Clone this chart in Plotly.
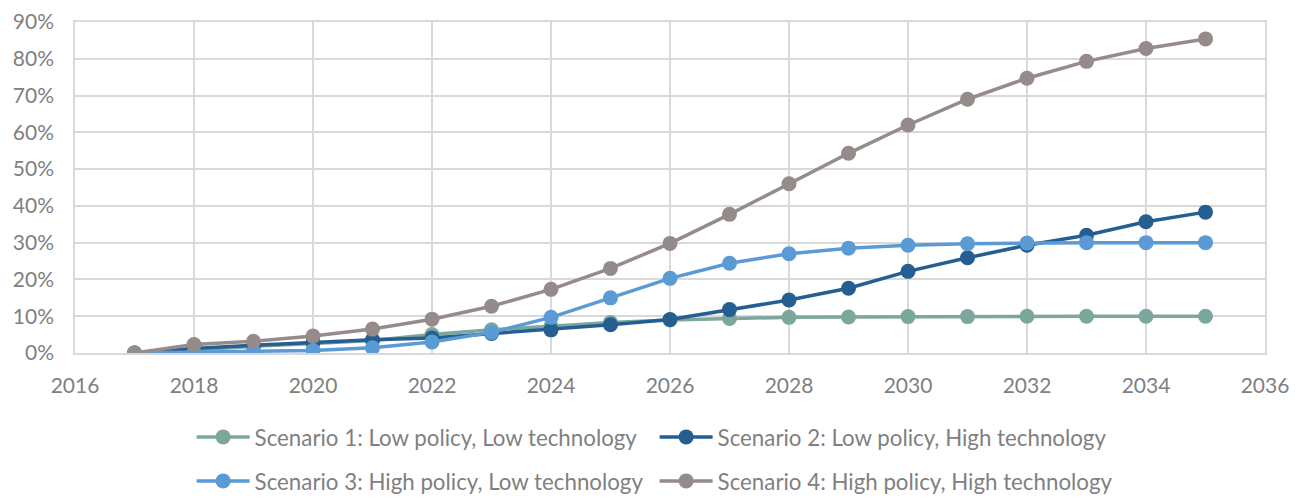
import plotly.graph_objects as go

years = list(range(2017, 2036))
s1 = [0.0, 1.0, 1.8, 2.6, 3.4, 5.0, 6.3, 7.3, 8.3, 9.0, 9.4, 9.7, 9.8, 9.9, 9.9, 10.0, 10.0, 10.0, 10.0]
s2 = [0.0, 1.2, 2.1, 2.9, 3.6, 4.1, 5.3, 6.3, 7.7, 9.1, 11.8, 14.4, 17.6, 22.2, 25.9, 29.3, 32.0, 35.7, 38.3]
s3 = [0.0, 0.2, 0.4, 0.7, 1.4, 3.0, 5.6, 9.7, 15.0, 20.3, 24.4, 27.0, 28.5, 29.3, 29.7, 29.9, 30.0, 30.0, 30.0]
s4 = [0.0, 2.3, 3.2, 4.6, 6.5, 9.2, 12.7, 17.3, 23.0, 29.8, 37.7, 46.0, 54.3, 62.0, 69.0, 74.7, 79.3, 82.8, 85.4]

names = ["Scenario 1: Low policy, Low technology",
         "Scenario 2: Low policy, High technology",
         "Scenario 3: High policy, Low technology",
         "Scenario 4: High policy, High technology"]
colors = ["#7BA79D", "#255E91", "#5B9BD5", "#968B8B"]
legends = ["legend", "legend", "legend2", "legend2"]

fig = go.Figure()
for vals, name, col, lg in zip([s1, s2, s3, s4], names, colors, legends):
    fig.add_trace(go.Scatter(
        x=years, y=[v / 100 for v in vals], name=name, mode="lines+markers",
        line=dict(color=col, width=3.5), marker=dict(color=col, size=15),
        legend=lg))

font = dict(family="Lato", size=21, color="#808080")
legfont = dict(family="Lato", size=22.3, color="#808080")
fig.update_layout(
    width=1295, height=490,
    margin=dict(l=67, r=38, t=14, b=145, autoexpand=False),
    plot_bgcolor="white", paper_bgcolor="white",
    font=font,
    xaxis=dict(range=[2016, 2036], dtick=2, tick0=2016, showgrid=True,
               gridcolor="#D9D9D9", gridwidth=1.5, showline=True, mirror=True,
               linecolor="#D9D9D9", linewidth=1.5, zeroline=False, automargin=False,
               ticks="outside", ticklen=13, tickcolor="rgba(0,0,0,0)",
               ticklabeloverflow="allow"),
    yaxis=dict(range=[0, 0.9], dtick=0.1, tickformat=".0%", showgrid=True,
               gridcolor="#D9D9D9", gridwidth=1.5, showline=True, mirror=True,
               linecolor="#D9D9D9", linewidth=1.5, zeroline=False, automargin=False,
               ticks="outside", ticklen=15, tickcolor="rgba(0,0,0,0)",
               ticklabeloverflow="allow"),
    legend=dict(orientation="h", x=0.098, xanchor="left", y=-0.19, yanchor="top",
                font=legfont, itemwidth=53, entrywidth=395, bgcolor="rgba(0,0,0,0)"),
    legend2=dict(orientation="h", x=0.098, xanchor="left", y=-0.323, yanchor="top",
                 font=legfont, itemwidth=53, entrywidth=395, bgcolor="rgba(0,0,0,0)"),
)
fig.write_html("out.html")
